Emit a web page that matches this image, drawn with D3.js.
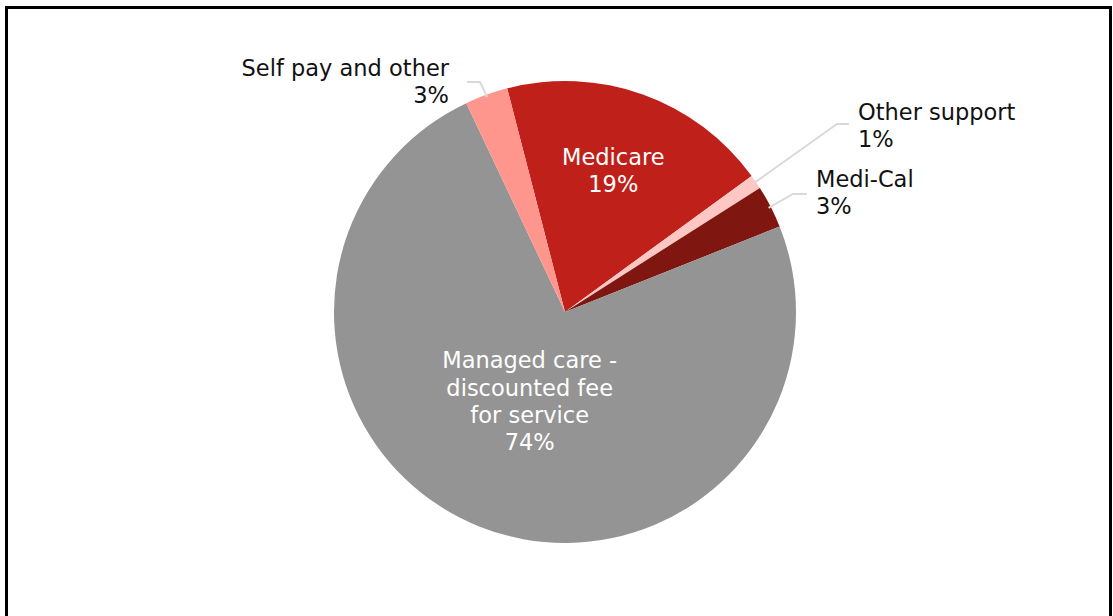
<!DOCTYPE html>
<html>
<head>
<meta charset="utf-8">
<script src="https://cdn.jsdelivr.net/npm/d3@7"></script>
<style>
  html, body { margin: 0; padding: 0; background: #fff; }
  svg { display: block; }
  text { font-family: "DejaVu Sans", Verdana, sans-serif; font-size: 22.5px; }
</style>
</head>
<body>
<svg id="chart" width="1113" height="616"></svg>
<script>
// Payer mix, in percent, listed clockwise from the first slice
const categories = ["Medicare", "Other support", "Medi-Cal", "Managed care - discounted fee for service", "Self pay and other"];
const values = [19, 1, 3, 74, 3];
const colors = ["#C0201A", "#FFC7C3", "#7F1610", "#949494", "#FF968D"];
// Label text, one entry per line
const labelLines = [
  ["Medicare", "19%"],
  ["Other support", "1%"],
  ["Medi-Cal", "3%"],
  ["Managed care -", "discounted fee", "for service", "74%"],
  ["Self pay and other", "3%"]
];

const svg = d3.select("#chart");
const W = 1113, H = 616;

// Frame: top, left and right edges only
svg.append("path")
  .attr("d", `M6.5,${H} V7.5 H1110.5 V${H}`)
  .attr("fill", "none")
  .attr("stroke", "#000")
  .attr("stroke-width", 3);

const cx = 565, cy = 312, R = 231;
const start = -14.5 * Math.PI / 180;

const pie = d3.pie().sort(null).value(d => d)
  .startAngle(start).endAngle(start + 2 * Math.PI);
const arcs = pie(values);
const arc = d3.arc().innerRadius(0).outerRadius(R);

const g = svg.append("g").attr("transform", `translate(${cx},${cy})`);

g.selectAll("path.slice")
  .data(arcs)
  .join("path")
  .attr("class", "slice")
  .attr("d", arc)
  .attr("fill", (d, i) => colors[i]);

// Point at a slice's middle angle, at a fraction k of the radius
function rimPoint(d, k) {
  const a = (d.startAngle + d.endAngle) / 2;
  return [Math.sin(a) * R * k, -Math.cos(a) * R * k];
}

const lineH = 27.3;

// Inside labels (white)
function insideLabel(i, x, yFirst) {
  const t = g.append("text")
    .attr("text-anchor", "middle")
    .attr("fill", "#fff");
  labelLines[i].forEach((s, j) => {
    t.append("tspan").attr("x", x).attr("y", yFirst + j * lineH).text(s);
  });
}
{
  const p = rimPoint(arcs[0], 0.62);
  insideLabel(0, p[0], p[1] - 12);
  const q = rimPoint(arcs[3], 0.5);
  insideLabel(3, q[0] + 7, q[1] - 51);
}

// Outside labels with leader lines
const leader = g.append("g")
  .attr("fill", "none")
  .attr("stroke", "#D9D9D9")
  .attr("stroke-width", 2);

function outsideLabel(i, anchor, tx, ty, elbow, endX) {
  const p = rimPoint(arcs[i], 0.99);
  leader.append("polyline")
    .attr("points", [p, elbow, [endX, elbow[1]]].map(v => v.join(",")).join(" "));
  const t = g.append("text")
    .attr("text-anchor", anchor)
    .attr("fill", "#111");
  labelLines[i].forEach((s, j) => {
    t.append("tspan").attr("x", tx).attr("y", ty + j * lineH).text(s);
  });
}

// Other support
outsideLabel(1, "start", 858 - cx, 120 - cy, [837 - cx, 124 - cy], 849 - cx);
// Medi-Cal
outsideLabel(2, "start", 816 - cx, 187 - cy, [793 - cx, 194 - cy], 807 - cx);
// Self pay and other
outsideLabel(4, "end", 449 - cx, 76 - cy, [480 - cx, 82 - cy], 467 - cx);
</script>
</body>
</html>
